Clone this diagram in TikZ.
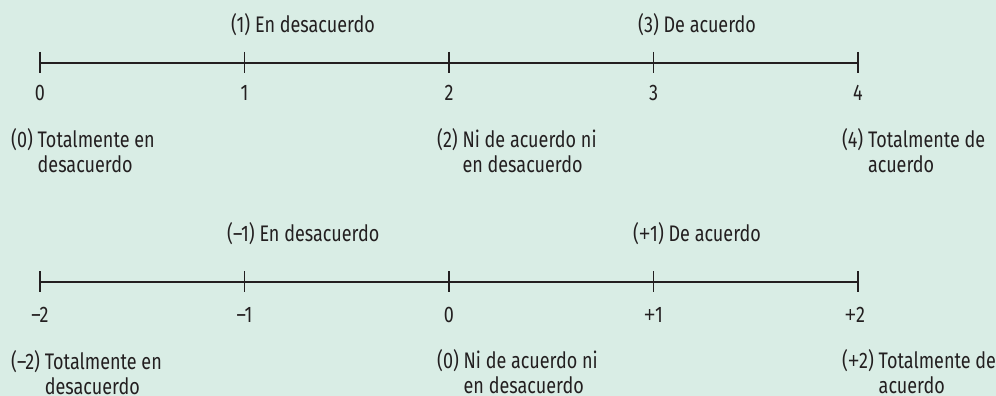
\documentclass[tikz,border=0pt]{standalone}
\usepackage{fontspec}
\setmainfont{Fira Sans}[FakeStretch=0.8]
\newfontfamily\plusfont{Liberation Sans}[FakeStretch=0.85]
\newcommand\pl{{\plusfont +}}
\definecolor{bgmint}{RGB}{217,237,229}
\definecolor{ink}{RGB}{35,31,32}
\newcommand\twolab[3]{#1 \parbox[t]{6cm}{\baselineskip=25pt\raggedright #2\\#3}}
\tikzset{
  lbl/.style={anchor=base west, inner sep=0pt, text=ink, font=\fontsize{22.5}{25}\selectfont},
  tlbl/.style={anchor=base, inner sep=0pt, text=ink, font=\fontsize{22.5}{25}\selectfont},
  axisline/.style={draw=ink, line width=1.3pt},
  tickmark/.style={draw=ink, line width=1.3pt}
}
\begin{document}
\begin{tikzpicture}[x=1pt,y=-1pt]
\fill[bgmint] (0,0) rectangle (996,396);
\useasboundingbox (0,0) rectangle (996,396);
% top scale
\foreach \i/\x in {0/40,1/244.5,2/449,3/653.5,4/858}{
  \coordinate (ta\i) at (\x,63);
  \draw[tickmark] (\x,52) -- (\x,73);
}
\draw[axisline] (ta0) -- (ta4);
\node[tlbl] (tn0) at (40,100) {0};
\node[tlbl] (tn1) at (244.5,100) {1};
\node[tlbl] (tn2) at (449,100) {2};
\node[tlbl] (tn3) at (653.5,100) {3};
\node[tlbl] (tn4) at (858,100) {4};
\node[lbl] (tu1) at (231,33) {(1) En desacuerdo};
\node[lbl] (tu3) at (638,33) {(3) De acuerdo};
\node[lbl] (tl0) at (11,147) {\twolab{(0)}{Totalmente en}{desacuerdo}};
\node[lbl] (tl2) at (437,147) {\twolab{(2)}{Ni de acuerdo ni}{en desacuerdo}};
\node[lbl] (tl4) at (842,147) {\twolab{(4)}{Totalmente de}{acuerdo}};
% bottom scale
\foreach \i/\x in {0/40,1/244.5,2/449,3/653.5,4/858}{
  \coordinate (ba\i) at (\x,282);
  \draw[tickmark] (\x,271) -- (\x,292);
}
\draw[axisline] (ba0) -- (ba4);
\node[tlbl] (bn0) at (40,322) {–2};
\node[tlbl] (bn1) at (244.5,322) {–1};
\node[tlbl] (bn2) at (449,322) {0};
\node[tlbl] (bn3) at (653.5,322) {\pl1};
\node[tlbl] (bn4) at (855,322) {\pl2};
\node[lbl] (bu1) at (227,241) {(–1) En desacuerdo};
\node[lbl] (bu3) at (633,241) {(\pl1) De acuerdo};
\node[lbl] (bl0) at (11,369) {\twolab{(–2)}{Totalmente en}{desacuerdo}};
\node[lbl] (bl2) at (437,368) {\twolab{(0)}{Ni de acuerdo ni}{en desacuerdo}};
\node[lbl] (bl4) at (842,368) {\twolab{(\pl2)}{Totalmente de}{acuerdo}};
\end{tikzpicture}
\end{document}
